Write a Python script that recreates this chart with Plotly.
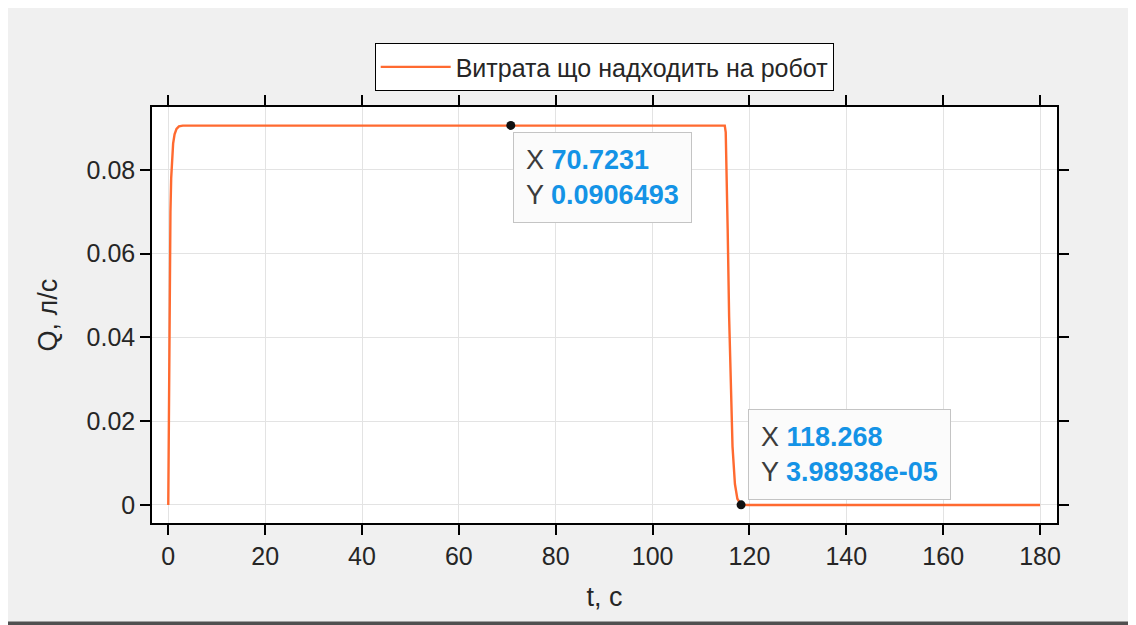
import plotly.graph_objects as go

# Time (s) and flow rate (l/s)
t_values = [0, 0.1, 0.2, 0.3, 0.45, 0.6, 0.8, 1.0, 1.3, 1.7, 2.2, 3.0, 5.0,
            70.7231, 114.9, 115.1, 115.3, 115.5, 115.8, 116.1, 116.5, 117.0,
            117.5, 118.268, 120.0, 180.0]
q_values = [0, 0.022, 0.042, 0.056, 0.070, 0.078, 0.083, 0.0863, 0.0885, 0.0898,
            0.0904, 0.0906, 0.0906, 0.0906493, 0.0906, 0.089, 0.080, 0.066, 0.045,
            0.028, 0.014, 0.005, 0.0015, 3.98938e-05, 0.000005, 0.0]

series_name = "Витрата що надходить на робот"
x_ticks = [0, 20, 40, 60, 80, 100, 120, 140, 160, 180]
y_ticks = [0, 0.02, 0.04, 0.06, 0.08]
y_tick_labels = ["0", "0.02", "0.04", "0.06", "0.08"]

# Data tips
tip_x = [70.7231, 118.268]
tip_y = [0.0906493, 3.98938e-05]
tip_x_text = ["70.7231", "118.268"]
tip_y_text = ["0.0906493", "3.98938e-05"]

FONT = "Liberation Sans, Arial, sans-serif"
LINE_COLOR = "#ff6a30"
TIP_BLUE = "#1493e6"

fig = go.Figure()
fig.add_trace(go.Scatter(
    x=t_values, y=q_values, mode="lines", name=series_name,
    line=dict(color=LINE_COLOR, width=2.4),
))
fig.add_trace(go.Scatter(
    x=tip_x, y=tip_y, mode="markers", showlegend=False,
    marker=dict(color="#111111", size=9),
))

# Data tip boxes
offsets = [dict(xanchor="left", yanchor="top", xshift=2, yshift=-7),
           dict(xanchor="left", yanchor="bottom", xshift=7, yshift=5)]
for i in range(len(tip_x)):
    txt = (f"<span style='color:#3c3c3c'>X</span> <b style='color:{TIP_BLUE}'>{tip_x_text[i]}</b>"
           f"<br><span style='color:#3c3c3c'>Y</span> <b style='color:{TIP_BLUE}'>{tip_y_text[i]}</b>")
    fig.add_annotation(
        x=tip_x[i], y=tip_y[i], xref="x", yref="y", text=txt, showarrow=False,
        align="left", font=dict(family=FONT, size=27),
        bgcolor="#fbfbfb", bordercolor="#c4c4c4", borderwidth=1, borderpad=12,
        **offsets[i],
    )

# bottom dark edge of the screenshot
fig.add_shape(type="rect", xref="paper", yref="paper",
              x0=-0.2, x1=1.1, y0=-0.26, y1=-0.237,
              fillcolor="#505050", line=dict(width=0), layer="above")

axis_common = dict(
    showline=True, linecolor="black", linewidth=1.5, mirror="ticks",
    ticks="outside", ticklen=10, tickwidth=1.5, tickcolor="black",
    showgrid=True, gridcolor="#e3e3e3", gridwidth=1, zeroline=False,
    tickfont=dict(family=FONT, size=25, color="#262626"),
)

fig.update_layout(
    width=1128, height=617,
    margin=dict(l=144, r=79, t=99, b=102),
    paper_bgcolor="#f0f0f0", plot_bgcolor="white",
    font=dict(family=FONT, color="#262626"),
    showlegend=True,
    legend=dict(
        x=0.5, xanchor="center", y=1.154, yanchor="top",
        bgcolor="white", bordercolor="black", borderwidth=1.2,
        font=dict(family=FONT, size=25, color="#262626"),
        itemwidth=70, tracegroupgap=0,
    ),
    xaxis=dict(range=[-3.36, 183.5], tickvals=x_ticks,
               title=dict(text="t, c", font=dict(family=FONT, size=27, color="#262626"), standoff=18),
               **axis_common),
    yaxis=dict(range=[-0.0043, 0.09504], tickvals=y_ticks, ticktext=y_tick_labels,
               title=dict(text="Q, л/с", font=dict(family=FONT, size=27, color="#262626"), standoff=21),
               **axis_common),
)

fig.write_html("out.html")
